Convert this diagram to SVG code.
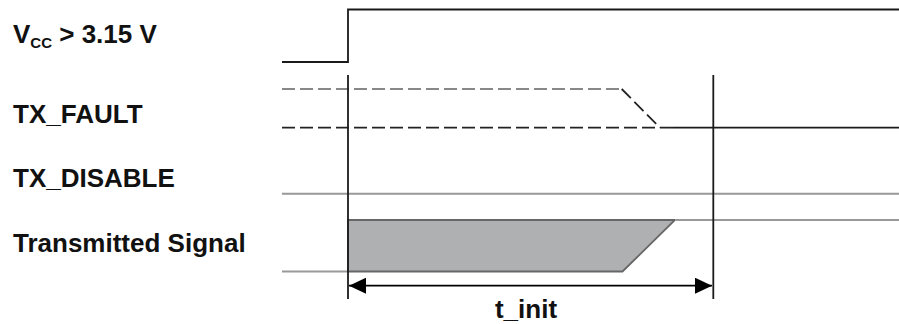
<svg xmlns="http://www.w3.org/2000/svg" width="899" height="324" viewBox="0 0 899 324">
<style>
.lbl{font-family:"Liberation Sans",Arial,sans-serif;font-weight:bold;font-size:26px;fill:#111}
.blk{stroke:#1a1a1a;stroke-width:1.8;fill:none}
.gry{stroke:#999;stroke-width:2;fill:none}
.dg{stroke:#888;stroke-width:2;fill:none;stroke-dasharray:13 5}
.db{stroke:#222;stroke-width:1.8;fill:none;stroke-dasharray:13 5}
</style>
<defs>
<marker id="ah" markerWidth="17" markerHeight="16" refX="17" refY="8" orient="auto-start-reverse" markerUnits="userSpaceOnUse">
<path d="M0,0 L17,8 L0,16 Z" fill="#000"/>
</marker>
</defs>
<rect width="899" height="324" fill="#fff"/>
<g id="labels">
<text class="lbl" x="13" y="43">V<tspan font-size="15" dy="5">CC</tspan><tspan dy="-5"> &gt; 3.15 V</tspan></text>
<text class="lbl" x="13" y="123">TX_FAULT</text>
<text class="lbl" x="13" y="187">TX_DISABLE</text>
<text class="lbl" x="13" y="252">Transmitted Signal</text>
</g>
<g id="vcc">
<path class="blk" d="M282,62 H348 V9.5 H899"/>
</g>
<g id="txfault">
<path class="dg" d="M282,89 H621.7"/>
<path class="db" d="M621.7,89 L660,127.7"/>
<path class="db" d="M282,127.7 H673"/>
<path class="blk" d="M673,127.7 H899"/>
</g>
<g id="txdisable">
<path class="gry" d="M282,193.7 H899"/>
</g>
<g id="transmitted">
<path class="gry" d="M282,271.5 H348"/>
<path d="M348,220 H675 L622.5,271.5 H348 Z" fill="#aeb0b2" stroke="#666" stroke-width="1.8"/>
<path class="gry" d="M675,220 H899"/>
</g>
<g id="connectors">
<path class="blk" d="M348,75 V299"/>
<path class="blk" d="M713.3,75 V299"/>
<path d="M349,285.7 H712" stroke="#000" stroke-width="1.8" marker-start="url(#ah)" marker-end="url(#ah)"/>
</g>
<g id="tinit">
<text class="lbl" x="526" y="318" text-anchor="middle">t_init</text>
</g>
</svg>
